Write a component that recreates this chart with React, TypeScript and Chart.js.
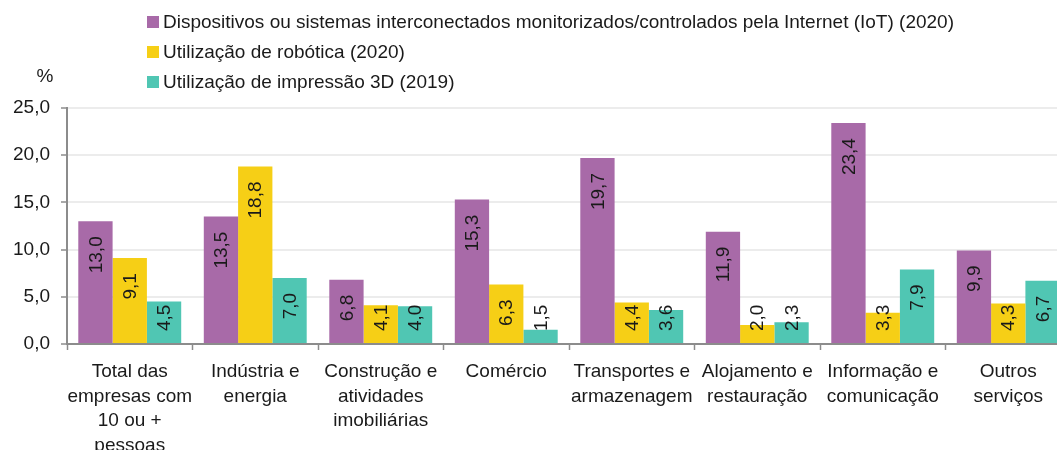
import React, { useEffect, useRef } from 'react';
import { Chart, registerables } from 'chart.js';

Chart.register(...registerables);

const categories: string[][] = [
  ['Total das', 'empresas com', '10 ou +', 'pessoas'],
  ['Indústria e', 'energia'],
  ['Construção e', 'atividades', 'imobiliárias'],
  ['Comércio'],
  ['Transportes e', 'armazenagem'],
  ['Alojamento e', 'restauração'],
  ['Informação e', 'comunicação'],
  ['Outros', 'serviços'],
];

const iotValues = [13.0, 13.5, 6.8, 15.3, 19.7, 11.9, 23.4, 9.9];
const roboticsValues = [9.1, 18.8, 4.1, 6.3, 4.4, 2.0, 3.3, 4.3];
const print3dValues = [4.5, 7.0, 4.0, 1.5, 3.6, 2.3, 7.9, 6.7];

const seriesNames = [
  'Dispositivos ou sistemas interconectados monitorizados/controlados pela Internet (IoT) (2020)',
  'Utilização de robótica (2020)',
  'Utilização de impressão 3D (2019)',
];
const seriesColors = ['#A86AA8', '#F6CF16', '#50C6B3'];

const yMin = 0;
const yMax = 25;
const yStep = 5;
const yUnit = '%';

const FONT = "'Liberation Sans', Arial, sans-serif";
const TEXT = '#1a1a1a';
const FS = 19;

const fmt = (v: number) => v.toFixed(1).replace('.', ',');

const legendPlugin = {
  id: 'customLegend',
  afterDraw(chart: any) {
    const ctx = chart.ctx;
    ctx.save();
    ctx.font = `${FS}px ${FONT}`;
    ctx.textBaseline = 'middle';
    ctx.textAlign = 'left';
    chart.data.datasets.forEach((ds: any, i: number) => {
      const cy = 22 + i * 30;
      ctx.fillStyle = ds.backgroundColor;
      ctx.fillRect(147, cy - 6, 12, 12);
      ctx.fillStyle = TEXT;
      ctx.fillText(ds.label, 163, cy + 1);
    });
    ctx.textAlign = 'center';
    ctx.fillText(yUnit, 45, 77);
    ctx.restore();
  },
};

const labelPlugin = {
  id: 'barLabels',
  afterDatasetsDraw(chart: any) {
    const ctx = chart.ctx;
    ctx.save();
    ctx.font = `${FS}px ${FONT}`;
    ctx.fillStyle = TEXT;
    ctx.textAlign = 'center';
    ctx.textBaseline = 'middle';
    chart.data.datasets.forEach((ds: any, i: number) => {
      const meta = chart.getDatasetMeta(i);
      meta.data.forEach((bar: any, j: number) => {
        const txt = fmt(ds.data[j]);
        const w = ctx.measureText(txt).width;
        const top = Math.min(bar.y + 15, bar.base - 12 - w);
        ctx.save();
        ctx.translate(bar.x, top + w / 2);
        ctx.rotate(-Math.PI / 2);
        ctx.fillText(txt, 0, 1);
        ctx.restore();
      });
    });
    ctx.restore();
  },
};

export default function App() {
  const ref = useRef<HTMLCanvasElement | null>(null);

  useEffect(() => {
    if (!ref.current) return;
    const chart = new Chart(ref.current, {
      type: 'bar',
      data: {
        labels: categories,
        datasets: [iotValues, roboticsValues, print3dValues].map((d, i) => ({
          label: seriesNames[i],
          data: d,
          backgroundColor: seriesColors[i],
          borderWidth: 0,
          categoryPercentage: 0.82,
          barPercentage: 1.0,
        })),
      },
      options: {
        responsive: false,
        animation: false,
        devicePixelRatio: 1,
        layout: { padding: { top: 108, left: 0, right: 9, bottom: 0 } },
        plugins: {
          legend: { display: false },
          tooltip: { enabled: false },
        },
        scales: {
          x: {
            afterFit: (s: any) => {
              s.height = 126;
            },
            grid: {
              offset: true,
              drawOnChartArea: false,
              tickLength: 6,
              tickColor: '#8c8c8c',
              tickWidth: 1.5,
            },
            border: { color: '#8c8c8c', width: 2 },
            ticks: {
              font: { family: FONT, size: FS, lineHeight: 1.31 },
              color: TEXT,
              padding: 9,
              maxRotation: 0,
              autoSkip: false,
            },
          },
          y: {
            min: yMin,
            max: yMax,
            afterFit: (s: any) => {
              s.width = 67;
            },
            grid: {
              color: '#ececec',
              lineWidth: 2,
              tickLength: 6,
              tickColor: '#8c8c8c',
              tickWidth: 1.5,
            },
            border: { color: '#8c8c8c', width: 2 },
            ticks: {
              stepSize: yStep,
              font: { family: FONT, size: FS },
              color: TEXT,
              padding: 11,
              callback: (v: any) => fmt(Number(v)),
            },
          },
        },
      },
      plugins: [legendPlugin, labelPlugin],
    });
    return () => chart.destroy();
  }, []);

  return (
    <div
      style={{
        position: 'fixed',
        left: 0,
        top: 0,
        width: 1057,
        height: 450,
        overflow: 'hidden',
        background: '#fff',
      }}
    >
      <canvas ref={ref} width={1080} height={470} style={{ display: 'block' }} />
    </div>
  );
}
